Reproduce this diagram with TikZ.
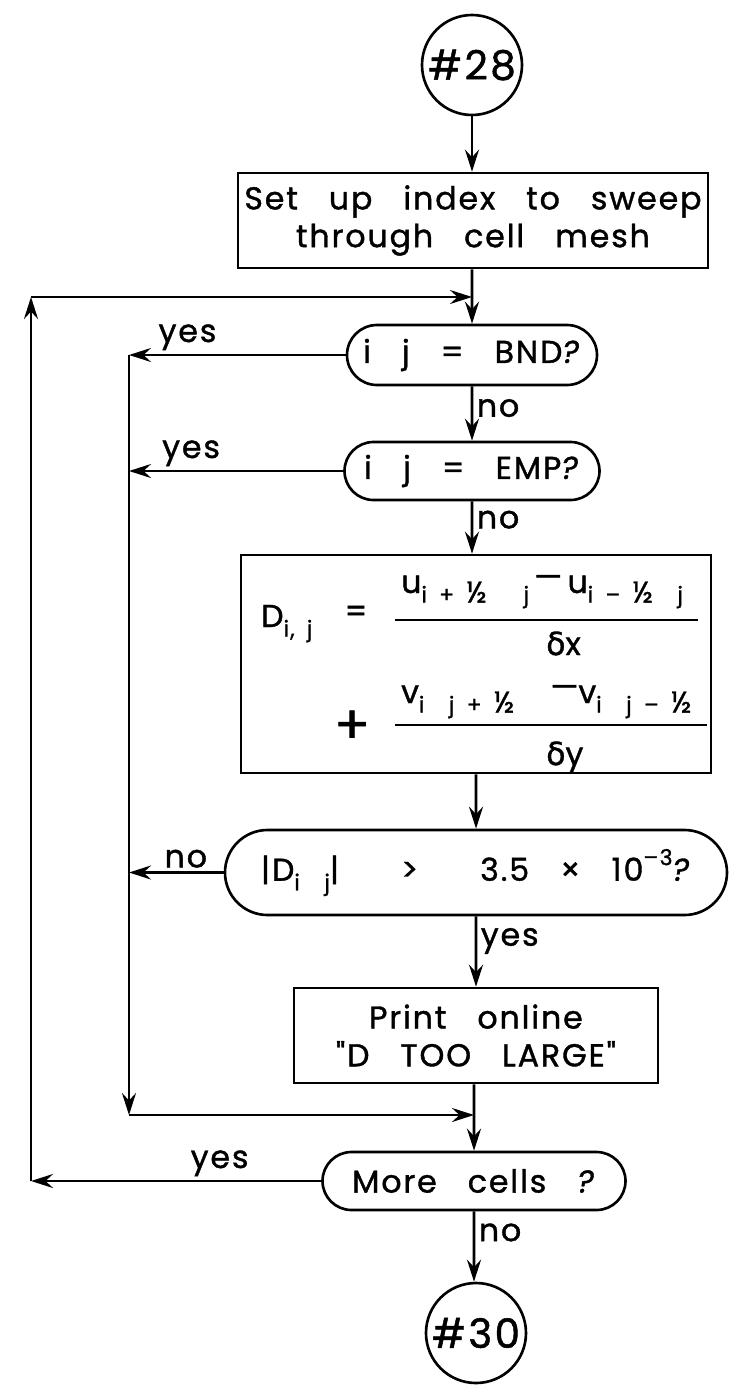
\documentclass[tikz,border=0pt]{standalone}
\usepackage{fontspec}
\setmainfont[Ligatures=TeXOff,LetterSpace=6,WordSpace=3,FakeBold=1.2]{Poppins}
\newfontfamily\grkfont[FakeBold=1.2]{DejaVu Sans}
\usetikzlibrary{arrows.meta,shapes.misc}
\newcommand{\sbs}[1]{\raisebox{-0.55ex}{\fontsize{12.5}{12}\selectfont\spaceskip=7pt #1}}
\newcommand{\sps}[1]{\raisebox{0.9ex}{\fontsize{12.5}{12}\selectfont #1}}
\newcommand{\half}{{\fontsize{17}{17}\selectfont ½}}
\newcommand{\dash}{\raisebox{0.3ex}{—}}

\tikzset{
  flow/.style={line width=1.5pt,-{Stealth[length=4.4mm,width=2.8mm,inset=1.5mm]}},
  connector/.style={circle,draw,line width=1.5pt,minimum size=20mm,inner sep=0pt,
    font=\fontsize{23}{23}\selectfont},
  procbox/.style={rectangle,draw,line width=1.5pt,align=center,inner sep=0pt},
  decision/.style={rounded rectangle,draw,line width=1.5pt,inner sep=0pt},
  lbl/.style={inner sep=2pt}
}

\begin{document}
\begin{tikzpicture}[x=0.2mm,y=-0.2mm,font=\fontsize{18}{21.5}\selectfont]
\useasboundingbox (0,0) rectangle (731,1390);

\node[connector] (c28) at (472,65) {\#28};
\node[procbox,minimum width=94mm,minimum height=19mm] (setup) at (473,220.5)
  {Set up index to sweep\\through cell mesh};
\node[decision,minimum width=50mm,minimum height=12mm] (bnd) at (472,355) {i j = BND\textit{?}};
\node[decision,minimum width=51mm,minimum height=11.6mm] (emp) at (472,471) {i j = EMP\textit{?}};
\node[procbox,minimum width=94mm,minimum height=43.6mm] (div) at (476,664) {};
\node[decision,minimum width=100.4mm,minimum height=17mm] (mag) at (476,872.5)
  {|D\sbs{i \ j}| \ > \ 3.5 × 10\sps{–3}\textit{?}};
\node[procbox,minimum width=72.8mm,minimum height=19mm] (prt) at (476,1035.5)
  {Print online\\"D TOO LARGE"};
\node[decision,minimum width=60.6mm,minimum height=11.6mm] (more) at (474,1181) {More cells \textit{?}};
\node[connector] (c30) at (476,1333) {\#30};

% divergence formula
\node[anchor=base west] (dij) at (255,627) {D\sbs{i, j}};
\node (eq) at (356,614) {=};
\node[anchor=base west] (num1) at (395,593) {u\sbs{i + \half{} \ \ j}\,\dash\,u\sbs{i – \half{} \ j}};
\draw[line width=1.5pt] (395,620) -- (698,620);
\node[anchor=base west] (den1) at (540,655) {{\grkfont δ}x};
\node (plus) at (352,727) {\fontsize{30}{30}\selectfont +};
\node[anchor=base west] (num2) at (395,703) {v\sbs{i \ j + \half} \,\dash v\sbs{i \ j – \half}};
\draw[line width=1.5pt] (395,725) -- (707,725);
\node[anchor=base west] (den2) at (540,765) {{\grkfont δ}y};

\coordinate (ltop) at (31,297);
\coordinate (itop) at (129,355);
\coordinate (ibot) at (129,1115);

\draw[flow] (c28) -- (c28 |- setup.north);
\draw[flow] (setup.south -| bnd.north) -- (bnd);
\draw[flow] (bnd) -- node[right,lbl,pos=0.4] {no} (emp);
\draw[flow] (emp) -- node[right,lbl,pos=0.35] {no} (emp |- div.north);
\draw[flow] (div.south -| mag.north) -- (mag);
\draw[flow] (mag) -- node[right,lbl,pos=0.35] {yes} (mag |- prt.north);
\draw[flow] (prt.south -| more.north) -- (more);
\draw[flow] (more) -- node[right,lbl,pos=0.3] {no} (more |- c30.north);

\draw[flow] (bnd.west) -- node[above,lbl,pos=0.73] {yes} (bnd.west -| itop);
\draw[flow] (emp.west) -- node[above,lbl,pos=0.71] {yes} (emp.west -| itop);
\draw[flow] (mag.west) -- node[above,lbl,pos=0.4] {no} (mag.west -| itop);
\draw[flow] (itop) -- (ibot);
\draw[flow] (ibot) -- (ibot -| more.north);

\draw[flow] (more.west) -- node[above,lbl,pos=0.35] {yes} (more.west -| ltop);
\draw[flow] (more.west -| ltop) -- (ltop);
\draw[flow] (ltop) -- (ltop -| bnd.north);
\end{tikzpicture}
\end{document}
